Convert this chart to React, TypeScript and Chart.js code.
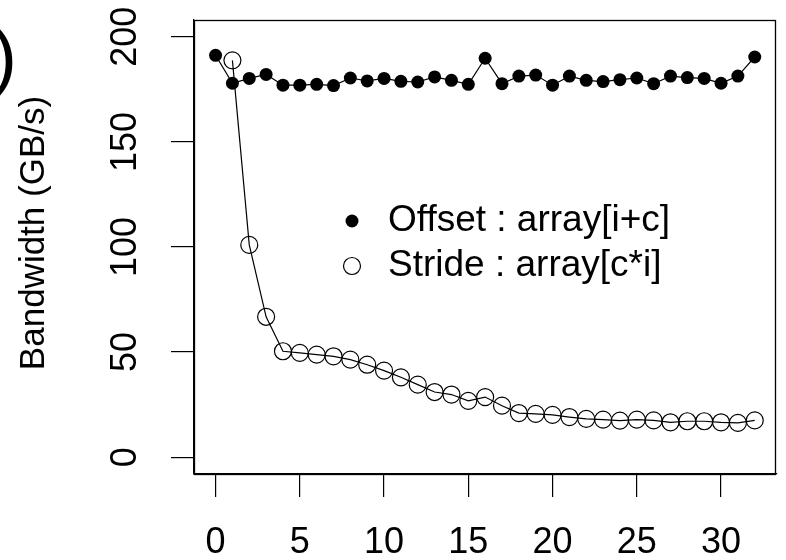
import React, { useEffect, useRef } from "react";
import { Chart, registerables } from "chart.js";

Chart.register(...registerables);

const OFFSET_X = [0, 1, 2, 3, 4, 5, 6, 7, 8, 9, 10, 11, 12, 13, 14, 15, 16, 17, 18, 19, 20, 21, 22, 23, 24, 25, 26, 27, 28, 29, 30, 31, 32];
const OFFSET_VALUES = [191.2, 177.9, 180.2, 182.1, 177, 177, 177.4, 176.8, 180.4, 179, 180.2, 178.8, 178.5, 180.9, 179.3, 177.4, 189.8, 177.7, 181.3, 181.8, 177, 181.3, 179.3, 178.7, 179.6, 180.4, 177.7, 181.3, 180.6, 180.2, 177.9, 181.3, 190.4];
const STRIDE_X = [1, 2, 3, 4, 5, 6, 7, 8, 9, 10, 11, 12, 13, 14, 15, 16, 17, 18, 19, 20, 21, 22, 23, 24, 25, 26, 27, 28, 29, 30, 31, 32];
const STRIDE_VALUES = [188.8, 101, 66.8, 50.4, 49.6, 48.8, 48, 46.4, 44, 41.2, 38, 34.5, 31, 29.8, 26.8, 28.6, 24.5, 21, 20.6, 20.1, 19.1, 18.2, 17.9, 17.4, 17.9, 17.5, 16.6, 17.1, 17.1, 16.6, 16.3, 17.5];
const X_TICKS = [0, 5, 10, 15, 20, 25, 30];
const Y_TICKS = [0, 50, 100, 150, 200];
const LEGEND_LABELS = ["Offset : array[i+c]", "Stride : array[c*i]"];
const Y_TITLE = "Bandwidth (GB/s)";

const FONT = "'Liberation Sans', Arial, Helvetica, sans-serif";

export default function App() {
  const ref = useRef<HTMLCanvasElement | null>(null);

  useEffect(() => {
    const canvas = ref.current;
    if (!canvas) return;

    const decorations = {
      id: "decorations",
      afterDatasetsDraw(chart: any) {
        const { ctx, chartArea } = chart;
        const ys = chart.scales.y;
        ctx.save();
        // box
        ctx.strokeStyle = "#000";
        ctx.lineWidth = 1.3;
        const l = Math.round(chartArea.left) + 0.5;
        const t = Math.round(chartArea.top) + 0.5;
        const r = Math.round(chartArea.right) - 0.5;
        const b = Math.round(chartArea.bottom) + 0.5;
        ctx.strokeRect(l, t, r - l, b - t);

        // y tick labels (rotated, R style)
        ctx.fillStyle = "#000";
        ctx.font = `36px ${FONT}`;
        ctx.textAlign = "center";
        ctx.textBaseline = "middle";
        for (const v of Y_TICKS) {
          const py = ys.getPixelForValue(v);
          ctx.save();
          ctx.translate(chartArea.left - 68, py);
          ctx.rotate(-Math.PI / 2);
          ctx.fillText(String(v), 0, 0);
          ctx.restore();
        }

        // y axis title
        ctx.save();
        ctx.font = `35px ${FONT}`;
        ctx.translate(34, (chartArea.top + chartArea.bottom) / 2 - 14);
        ctx.rotate(-Math.PI / 2);
        ctx.fillText(Y_TITLE, 0, 0);
        ctx.restore();

        // legend
        const lx = chartArea.left + 158;
        const ly1 = chartArea.top + 201;
        const ly2 = chartArea.top + 246;
        ctx.beginPath();
        ctx.arc(lx, ly1, 6.5, 0, Math.PI * 2);
        ctx.fill();
        ctx.beginPath();
        ctx.lineWidth = 1.2;
        ctx.arc(lx, ly2, 8.5, 0, Math.PI * 2);
        ctx.stroke();
        ctx.font = `37px ${FONT}`;
        ctx.textAlign = "left";
        ctx.fillText(LEGEND_LABELS[0], lx + 36, ly1);
        ctx.fillText(LEGEND_LABELS[1], lx + 36, ly2);

        // partial glyph from neighbouring panel
        ctx.font = `75px ${FONT}`;
        ctx.textAlign = "right";
        ctx.textBaseline = "alphabetic";
        ctx.fillText(")", 17, 82);
        ctx.restore();
      },
    };

    const chart = new Chart(canvas, {
      type: "line",
      data: {
        datasets: [
          {
            label: LEGEND_LABELS[0],
            data: OFFSET_X.map((x, i) => ({ x, y: OFFSET_VALUES[i] })),
            borderColor: "#000",
            borderWidth: 1.2,
            pointRadius: 6.5,
            pointBorderWidth: 0,
            pointBackgroundColor: "#000",
            pointBorderColor: "#000",
            tension: 0,
          },
          {
            label: LEGEND_LABELS[1],
            data: STRIDE_X.map((x, i) => ({ x, y: STRIDE_VALUES[i] })),
            borderColor: "#000",
            borderWidth: 1.2,
            pointRadius: 8.5,
            pointBorderWidth: 1.2,
            pointBackgroundColor: "rgba(0,0,0,0)",
            pointBorderColor: "#000",
            tension: 0,
          },
        ],
      },
      options: {
        responsive: false,
        animation: false,
        devicePixelRatio: 1,
        layout: { padding: { top: 20, right: 1, left: 0, bottom: 0 } },
        plugins: {
          legend: { display: false },
          tooltip: { enabled: false },
        },
        scales: {
          x: {
            type: "linear",
            min: -1.28,
            max: 33.28,
            afterBuildTicks: (scale: any) => {
              scale.ticks = X_TICKS.map((v) => ({ value: v }));
            },
            afterFit: (scale: any) => {
              scale.height = 86;
            },
            grid: {
              display: true,
              drawOnChartArea: false,
              drawTicks: true,
              tickLength: 23,
              color: "#000",
              lineWidth: 1.2,
            },
            border: { display: true, color: "#000", width: 1.3 },
            ticks: {
              color: "#000",
              font: { size: 36, family: FONT },
              padding: 24,
              maxRotation: 0,
              minRotation: 0,
              autoSkip: false,
            },
          },
          y: {
            type: "linear",
            min: -8,
            max: 208,
            afterBuildTicks: (scale: any) => {
              scale.ticks = Y_TICKS.map((v) => ({ value: v }));
            },
            afterFit: (scale: any) => {
              scale.width = 194;
            },
            grid: {
              display: true,
              drawOnChartArea: false,
              drawTicks: true,
              tickLength: 23,
              color: "#000",
              lineWidth: 1.2,
            },
            border: { display: true, color: "#000", width: 1.3 },
            ticks: { display: false },
          },
        },
      },
      plugins: [decorations],
    } as any);

    return () => chart.destroy();
  }, []);

  return (
    <div style={{ position: "fixed", left: 0, top: 0, width: 786, height: 560, background: "#fff" }}>
      <canvas ref={ref} width={786} height={560} style={{ display: "block", width: 786, height: 560 }} />
    </div>
  );
}
